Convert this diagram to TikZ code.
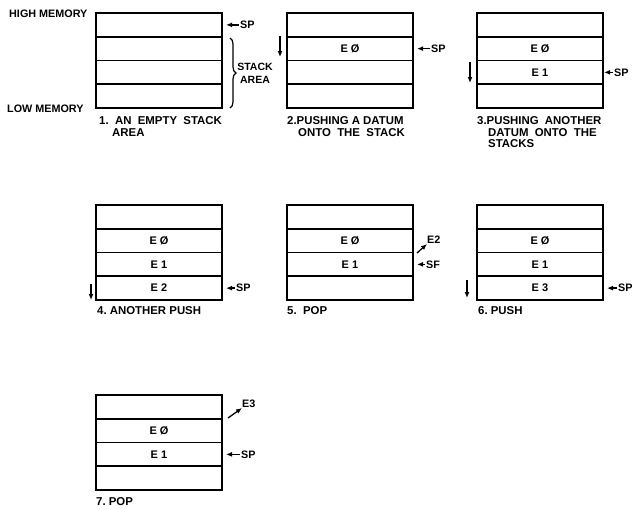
\documentclass[tikz,border=0pt]{standalone}
\usepackage{fontspec}
\setmainfont{Liberation Sans}
\usetikzlibrary{arrows.meta,decorations.pathreplacing}
\tikzset{
  cell/.style={draw,line width=1.7pt,minimum width=126pt,minimum height=23.75pt,
    inner sep=0pt,outer sep=0pt,anchor=north west,font=\bfseries\fontsize{11}{13}\selectfont},
  lbl/.style={font=\bfseries\fontsize{10.8}{12}\selectfont,inner sep=0pt},
  captext/.style={font=\bfseries\fontsize{11.4}{13}\selectfont,inner sep=0pt,anchor=base west},
  arr/.style={line width=1.3pt,-{Latex[length=6pt,width=5pt]}},
  sparr/.style={arr,shorten >=4pt,shorten <=1.5pt},
}
\newcommand\mkstack[7]{%
  \node[cell] (#1a) at (#2,#3) {#4};
  \node[cell] (#1b) at (#1a.south west) {#5};
  \node[cell] (#1c) at (#1b.south west) {#6};
  \node[cell] (#1d) at (#1c.south west) {#7};
}
\begin{document}
\begin{tikzpicture}[x=1pt,y=-1pt]
\useasboundingbox[fill=white] (0,0) rectangle (638,509);

% ---------- panel 1
\mkstack{p1}{96}{13}{}{}{}{}
\node[lbl,anchor=west] (hi) at (9,13.7) {HIGH MEMORY};
\node[lbl,anchor=west] (lo) at (7,108.5) {LOW MEMORY};
\node[lbl,anchor=west] (sp1) at ([xshift=18pt]p1a.east) {SP};
\draw[sparr] (sp1.west) -- (p1a.east);
\coordinate (br1) at (230,38);
\coordinate (br2) at (230,108);
\draw[line width=1.2pt,decorate,decoration={brace,amplitude=6pt}] (br1) -- (br2);
\node[lbl,align=center,font=\bfseries\fontsize{10.5}{12.5}\selectfont] (area) at (255,73.5) {STACK\\AREA};
\node[captext] (c1a) at (99,124) {1.\ \ AN\ \ EMPTY\ \ STACK};
\node[captext] (c1b) at (112,136) {AREA};

% ---------- panel 2
\mkstack{p2}{287}{13}{}{E\ Ø}{}{}
\node[lbl,anchor=west] (sp2) at ([xshift=18pt]p2b.east) {SP};
\draw[sparr] (sp2.west) -- (p2b.east);
\coordinate (d2a) at (280,36);
\coordinate (d2b) at (280,57);
\draw[arr] (d2a) -- (d2b);
\node[captext] (c2a) at (287,124) {2.PUSHING A DATUM};
\node[captext] (c2b) at (298,136) {ONTO\ \ THE\ \ STACK};

% ---------- panel 3
\mkstack{p3}{477}{13}{}{E\ Ø}{E\ 1}{}
\node[lbl,anchor=west] (sp3) at ([xshift=11pt]p3c.east) {SP};
\draw[arr,shorten >=1pt,shorten <=1pt] (sp3.west) -- (p3c.east);
\coordinate (d3a) at (470,62);
\coordinate (d3b) at (470,83);
\draw[arr] (d3a) -- (d3b);
\node[captext] (c3a) at (477,124) {3.PUSHING\ \ ANOTHER};
\node[captext] (c3b) at (488,136) {DATUM\ \ ONTO\ \ THE};
\node[captext] (c3c) at (488,147) {STACKS};

% ---------- panel 4
\mkstack{p4}{96}{205}{}{E\ Ø}{E\ 1}{E\ 2}
\node[lbl,anchor=west] (sp4) at ([xshift=14pt]p4d.east) {SP};
\draw[sparr] (sp4.west) -- (p4d.east);
\coordinate (d4a) at (91,284);
\coordinate (d4b) at (91,300);
\draw[arr] (d4a) -- (d4b);
\node[captext] (c4) at (97,314) {4.\ ANOTHER\ PUSH};

% ---------- panel 5
\mkstack{p5}{287}{205}{}{E\ Ø}{E\ 1}{}
\node[lbl,anchor=west] (sp5) at ([xshift=13pt]p5c.east) {SF};
\draw[sparr] (sp5.west) -- (p5c.east);
\node[lbl,anchor=west] (e2) at (427,240) {E2};
\coordinate (e2t) at (417,253);
\draw[arr] (e2t) -- (e2.south west);
\node[captext] (c5) at (287,314) {5.\ \ POP};

% ---------- panel 6
\mkstack{p6}{477}{205}{}{E\ Ø}{E\ 1}{E\ 3}
\node[lbl,anchor=west] (sp6) at ([xshift=15pt]p6d.east) {SP};
\draw[sparr] (sp6.west) -- (p6d.east);
\coordinate (d6a) at (467,280);
\coordinate (d6b) at (467,298);
\draw[arr] (d6a) -- (d6b);
\node[captext] (c6) at (478,314) {6.\ PUSH};

% ---------- panel 7
\mkstack{p7}{96}{395}{}{E\ Ø}{E\ 1}{}
\node[lbl,anchor=west] (sp7) at ([xshift=19pt]p7c.east) {SP};
\draw[sparr] (sp7.west) -- (p7c.east);
\node[lbl,anchor=west] (e3) at (242,404) {E3};
\coordinate (e3t) at (228,418);
\draw[arr] (e3t) -- (e3.south west);
\node[captext] (c7) at (96,505) {7.\ POP};
\end{tikzpicture}
\end{document}
